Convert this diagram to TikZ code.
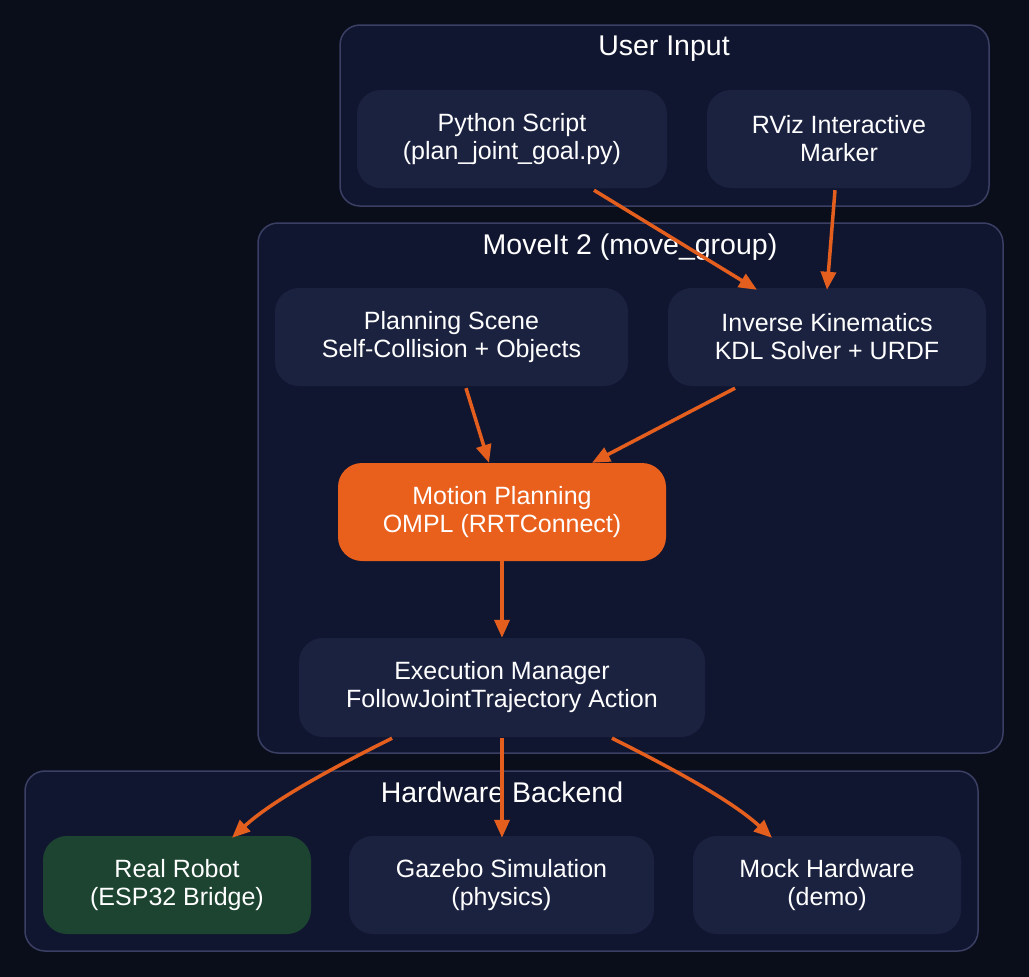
\documentclass[tikz,border=0pt]{standalone}
\usepackage{fontspec}
\setmainfont{Liberation Sans}
\usetikzlibrary{arrows.meta,calc}
\definecolor{bg}{HTML}{0A0E1B}
\definecolor{clfill}{HTML}{111630}
\definecolor{clborder}{HTML}{3A3F63}
\definecolor{nodefill}{HTML}{1B2240}
\definecolor{orangec}{HTML}{E95F1C}
\definecolor{greenc}{HTML}{1C4430}
\definecolor{arrowc}{HTML}{E45F1E}
\tikzset{
  cluster/.style={draw=clborder, fill=clfill, line width=1.5pt, rounded corners=20pt},
  cltitle/.style={text=white, anchor=base, inner sep=0pt, font=\fontsize{28.5}{32}\selectfont},
  box/.style={fill=nodefill, rounded corners=24pt, text=white, align=center,
    font=\fontsize{25}{28}\selectfont, inner sep=0pt},
  conn/.style={draw=arrowc, line width=3.5pt, -{Triangle[length=18pt,width=15pt]}},
}
\begin{document}
\begin{tikzpicture}[x=1pt,y=-1pt]
\fill[bg] (0,0) rectangle (1029,977);
\useasboundingbox (0,0) rectangle (1029,977);

% clusters
\draw[cluster] (340,25) rectangle (989,206);
\node[cltitle] (tuser) at (664,56) {User Input};
\draw[cluster] (258,223) rectangle (1003,753);
\node[cltitle] (tmove) at (630,254) {MoveIt 2 (move\_group)};
\draw[cluster] (25,771) rectangle (978,951);
\node[cltitle] (thw) at (502,802) {Hardware Backend};

% nodes
\node[box, minimum width=310pt, minimum height=98pt] (py) at (512,139) {Python Script\\(plan\_joint\_goal.py)};
\node[box, minimum width=264pt, minimum height=98pt] (rviz) at (839,139) {RViz Interactive\\Marker};
\node[box, minimum width=353pt, minimum height=98pt] (ps) at (451.5,337) {Planning Scene\\Self-Collision + Objects};
\node[box, minimum width=318pt, minimum height=98pt] (ik) at (827,337) {Inverse Kinematics\\KDL Solver + URDF};
\node[box, fill=orangec, minimum width=328pt, minimum height=98pt] (mp) at (502,512) {Motion Planning\\OMPL (RRTConnect)};
\node[box, minimum width=406pt, minimum height=99pt] (ex) at (502,687.5) {Execution Manager\\FollowJointTrajectory Action};
\node[box, fill=greenc, minimum width=268pt, minimum height=98pt] (rr) at (177,885) {Real Robot\\(ESP32 Bridge)};
\node[box, minimum width=305pt, minimum height=98pt] (gz) at (501.5,885) {Gazebo Simulation\\(physics)};
\node[box, minimum width=268pt, minimum height=98pt] (mh) at (827,885) {Mock Hardware\\(demo)};

% connectors
\draw[conn] ($(py.south)+(82,2)$) -- ($(ik.north)+(-70,2)$);
\draw[conn] ($(rviz.south)+(-4,2)$) -- ($(ik.north)+(0,2)$);
\draw[conn] ($(ps.south)+(14.5,2)$) -- ($(mp.north)+(-13,0)$);
\draw[conn] ($(ik.south)+(-92,2)$) -- ($(mp.north)+(90,0)$);
\draw[conn] (mp.south) -- (ex.north);
\draw[conn] ($(ex.south)+(-110,1)$) .. controls ($(ex.south)+(-170,31)$) and ($(rr.north)+(95,-35)$) .. ($(rr.north)+(55,2)$);
\draw[conn] ($(ex.south)+(0,1)$) -- ($(gz.north)+(0.5,2)$);
\draw[conn] ($(ex.south)+(110,1)$) .. controls ($(ex.south)+(170,31)$) and ($(mh.north)+(-95,-35)$) .. ($(mh.north)+(-55,2)$);
\end{tikzpicture}
\end{document}
